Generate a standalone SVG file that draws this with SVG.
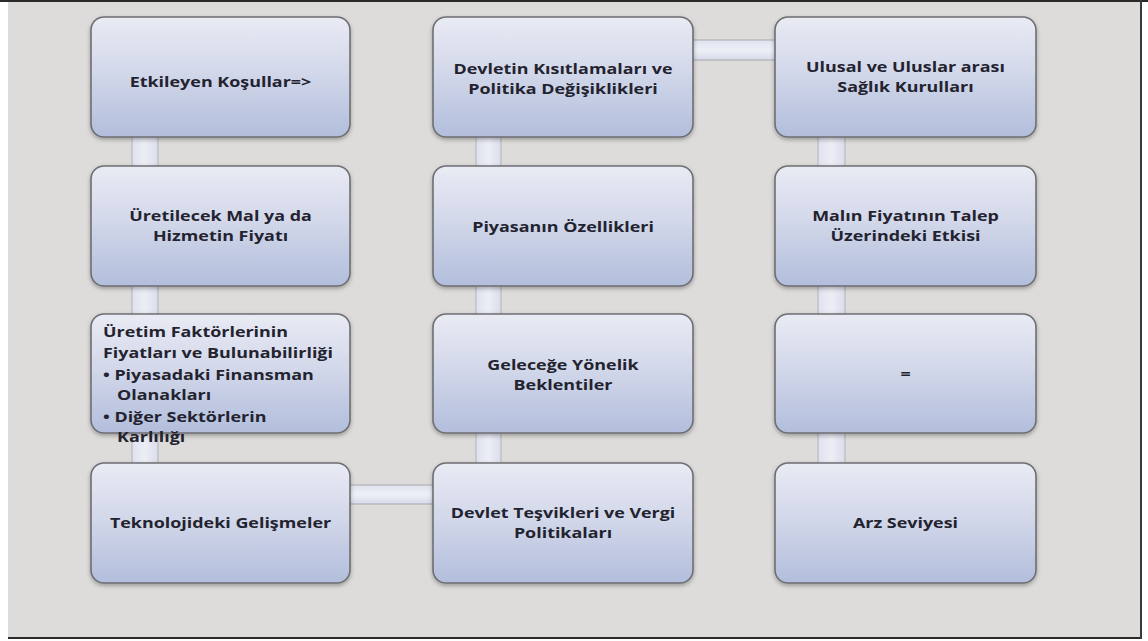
<svg xmlns="http://www.w3.org/2000/svg" width="1148" height="641" viewBox="0 0 1148 641">
<defs>
<linearGradient id="boxFill" x1="0" y1="0" x2="0" y2="1">
<stop offset="0" stop-color="#e9ebf4"/>
<stop offset="0.45" stop-color="#d3d8ea"/>
<stop offset="1" stop-color="#b2bedc"/>
</linearGradient>
<linearGradient id="hConn" x1="0" y1="0" x2="0" y2="1">
<stop offset="0" stop-color="#dfe2ee"/>
<stop offset="0.5" stop-color="#eef0f7"/>
<stop offset="1" stop-color="#d7dbe8"/>
</linearGradient>
<linearGradient id="vConn" x1="0" y1="0" x2="1" y2="0">
<stop offset="0" stop-color="#dfe2ee"/>
<stop offset="0.5" stop-color="#eceef6"/>
<stop offset="1" stop-color="#dadeea"/>
</linearGradient>
<filter id="shadow" x="-10%" y="-10%" width="120%" height="125%">
<feDropShadow dx="0" dy="2" stdDeviation="2" flood-color="#000" flood-opacity="0.3"/>
</filter>
<style>
.box{fill:url(#boxFill);stroke:#6d6e72;stroke-width:1.6;filter:url(#shadow)}
.hc{fill:url(#hConn);stroke:#9a9ca3;stroke-width:0.8}
.vc{fill:url(#vConn);stroke:#a6a8ae;stroke-width:0.8}
.t{font-family:"Open Sans","Liberation Sans",sans-serif;font-weight:700;font-size:14px;fill:#23232f;text-anchor:middle}
.tl{font-family:"Open Sans","Liberation Sans",sans-serif;font-weight:700;font-size:14px;fill:#23232f}
</style>
</defs>
<rect x="0" y="0" width="1148" height="641" fill="#ffffff"/>
<rect x="8" y="2" width="1133" height="636" fill="#dddcda"/>
<line x1="0" y1="1" x2="1148" y2="1" stroke="#2a2a2a" stroke-width="2"/>
<line x1="8" y1="638" x2="1142" y2="638" stroke="#2a2a2a" stroke-width="2"/>
<line x1="1141" y1="0" x2="1141" y2="639" stroke="#3a3a3a" stroke-width="2"/>
<g id="connectors">
<rect class="vc" x="132" y="130" width="26" height="360"/>
<rect class="vc" x="476" y="130" width="25" height="360"/>
<rect class="vc" x="818" y="130" width="27" height="360"/>
<rect class="hc" x="690" y="40" width="90" height="20"/>
<rect class="hc" x="346" y="485" width="92" height="19"/>
</g>
<g id="n1"><rect class="box" x="91" y="17" width="259" height="120" rx="13"/>
<g transform="translate(220.5 0) scale(1.28 1)"><text class="t" x="0" y="87">Etkileyen Koşullar=&gt;</text></g></g>
<g id="n2"><rect class="box" x="91" y="166" width="259" height="120" rx="13"/>
<g transform="translate(220.5 0) scale(1.28 1)"><text class="t" x="0" y="221">Üretilecek Mal ya da</text>
<text class="t" x="0" y="241">Hizmetin Fiyatı</text></g></g>
<g id="n3"><rect class="box" x="91" y="314" width="259" height="119" rx="13"/>
<g transform="translate(103 0) scale(1.28 1)"><text class="tl" x="0" y="337">Üretim Faktörlerinin</text>
<text class="tl" x="0" y="358">Fiyatları ve Bulunabilirliği</text>
<text class="tl" x="0" y="380">• Piyasadaki Finansman</text>
<text class="tl" x="11" y="400">Olanakları</text>
<text class="tl" x="0" y="422">• Diğer Sektörlerin</text>
<text class="tl" x="11" y="442">Karlılığı</text></g></g>
<g id="n4"><rect class="box" x="91" y="463" width="259" height="120" rx="13"/>
<g transform="translate(220.5 0) scale(1.28 1)"><text class="t" x="0" y="528">Teknolojideki Gelişmeler</text></g></g>
<g id="n5"><rect class="box" x="433" y="17" width="260" height="120" rx="13"/>
<g transform="translate(563 0) scale(1.28 1)"><text class="t" x="0" y="74">Devletin Kısıtlamaları ve</text>
<text class="t" x="0" y="94">Politika Değişiklikleri</text></g></g>
<g id="n6"><rect class="box" x="433" y="166" width="260" height="120" rx="13"/>
<g transform="translate(563 0) scale(1.28 1)"><text class="t" x="0" y="232">Piyasanın Özellikleri</text></g></g>
<g id="n7"><rect class="box" x="433" y="314" width="260" height="119" rx="13"/>
<g transform="translate(563 0) scale(1.28 1)"><text class="t" x="0" y="370">Geleceğe Yönelik</text>
<text class="t" x="0" y="390">Beklentiler</text></g></g>
<g id="n8"><rect class="box" x="433" y="463" width="260" height="120" rx="13"/>
<g transform="translate(563 0) scale(1.28 1)"><text class="t" x="0" y="518">Devlet Teşvikleri ve Vergi</text>
<text class="t" x="0" y="538">Politikaları</text></g></g>
<g id="n9"><rect class="box" x="775" y="17" width="261" height="120" rx="13"/>
<g transform="translate(905.5 0) scale(1.28 1)"><text class="t" x="0" y="72">Ulusal ve Uluslar arası</text>
<text class="t" x="0" y="92">Sağlık Kurulları</text></g></g>
<g id="n10"><rect class="box" x="775" y="166" width="261" height="120" rx="13"/>
<g transform="translate(905.5 0) scale(1.28 1)"><text class="t" x="0" y="221">Malın Fiyatının Talep</text>
<text class="t" x="0" y="241">Üzerindeki Etkisi</text></g></g>
<g id="n11"><rect class="box" x="775" y="314" width="261" height="119" rx="13"/>
<g transform="translate(905.5 0) scale(1.28 1)"><text class="t" x="0" y="379">=</text></g></g>
<g id="n12"><rect class="box" x="775" y="463" width="261" height="120" rx="13"/>
<g transform="translate(905.5 0) scale(1.28 1)"><text class="t" x="0" y="528">Arz Seviyesi</text></g></g>
</svg>
